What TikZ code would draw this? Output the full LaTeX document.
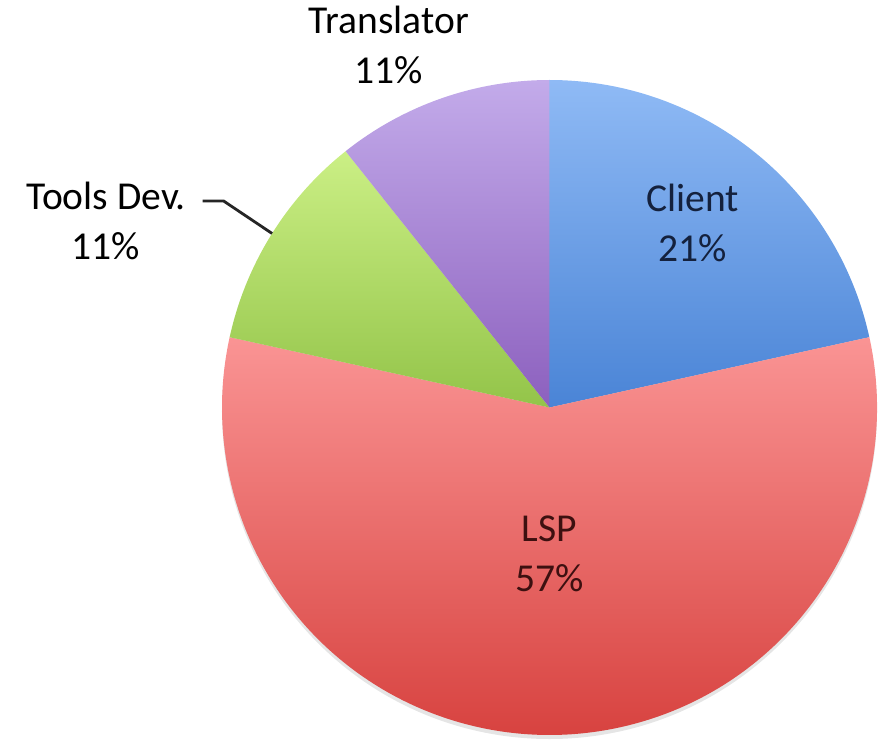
\documentclass[tikz,border=0pt]{standalone}
\usepackage{fontspec}
\setmainfont{Carlito}
\usetikzlibrary{positioning}

\definecolor{clienttop}{HTML}{8FBAF5}
\definecolor{clientbot}{HTML}{4A84D6}
\definecolor{lsptop}{HTML}{FA9494}
\definecolor{lspbot}{HTML}{D63F3C}
\definecolor{toolstop}{HTML}{CBEF85}
\definecolor{toolsbot}{HTML}{93C449}
\definecolor{transtop}{HTML}{C3ABEA}
\definecolor{transbot}{HTML}{8C60BE}
\definecolor{clienttext}{HTML}{14213D}
\definecolor{lsptext}{HTML}{3D1010}

\begin{document}
\begin{tikzpicture}[x=0.02cm,y=0.02cm,
  lbl/.style={align=center,inner sep=0pt,font=\fontsize{22.5}{28.5}\selectfont},
  leader/.style={line width=1.6pt,black!85}]
\useasboundingbox (-549.5,-333.5) rectangle (329.5,407.5);

\def\R{327.5}
% soft shadow
\fill[black!10] (0,-4) circle[radius=\R];

\shade[top color=clienttop,bottom color=clientbot]
  (0,0) -- (90:\R) arc[start angle=90,end angle=12.4,radius=\R] -- cycle;
\shade[top color=lsptop,bottom color=lspbot]
  (0,0) -- (12.4:\R) arc[start angle=12.4,end angle=-192.4,radius=\R] -- cycle;
\shade[top color=toolstop,bottom color=toolsbot]
  (0,0) -- (167.6:\R) arc[start angle=167.6,end angle=128.5,radius=\R] -- cycle;
\shade[top color=transtop,bottom color=transbot]
  (0,0) -- (128.5:\R) arc[start angle=128.5,end angle=90,radius=\R] -- cycle;

\node[lbl,text=clienttext] (client) at (143.5,185) {Client\\21\%};
\node[lbl,text=lsptext] (lsp) at (0,-146) {LSP\\57\%};
\node[lbl] (trans) at (-160.5,362.5) {Translator\\11\%};
\node[lbl] (tools) at (-443.5,186.5) {Tools Dev.\\11\%};

\coordinate (toolsedge) at (147.9:\R);
\draw[leader] ([xshift=9.5pt,yshift=-11pt]tools.north east) -- ++(21,0) -- (toolsedge);
\end{tikzpicture}
\end{document}
